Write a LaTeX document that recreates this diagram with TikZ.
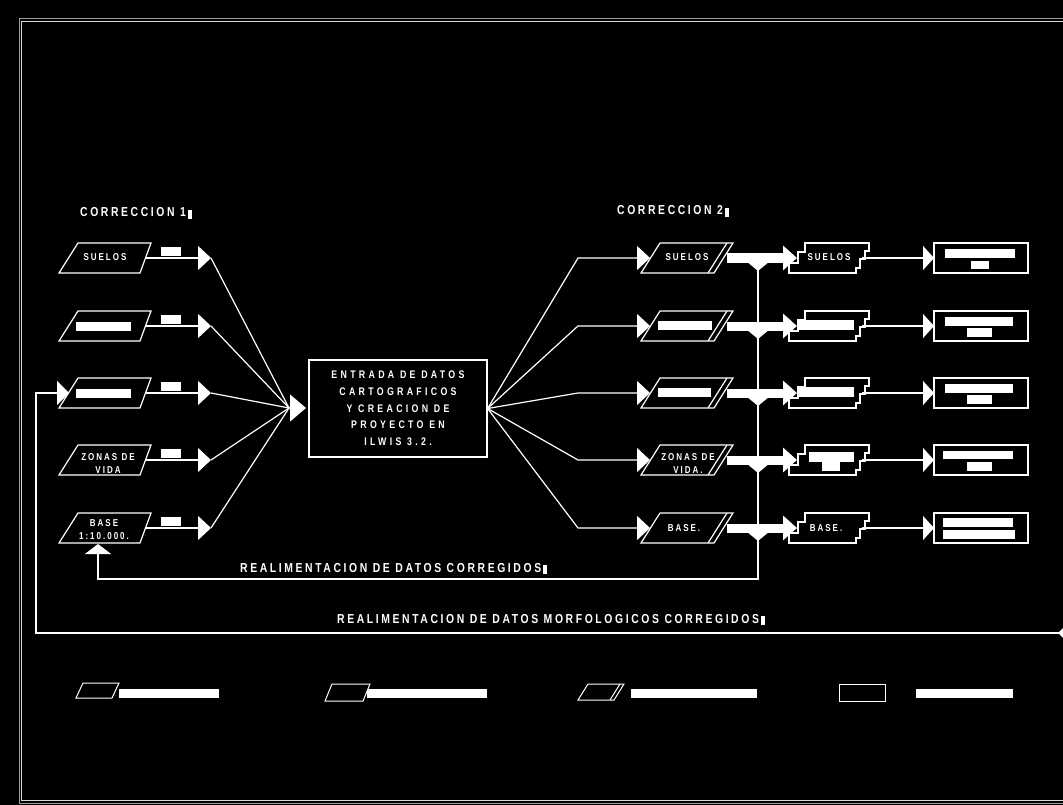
\documentclass[tikz,border=0pt]{standalone}
\usepackage{fontspec}
\usetikzlibrary{arrows.meta}
\newfontfamily\pixfont[FakeStretch=0.8,LetterSpace=20]{Liberation Sans}
\newfontfamily\pixboxfont[FakeStretch=0.8,LetterSpace=30]{Liberation Sans}
\newcommand{\blk}{\,\rule[-2pt]{3.5pt}{9pt}}
\begin{document}
\begin{tikzpicture}[x=1pt,y=-1pt,
  wl/.style={draw=white,line width=1.2pt},
  tipA/.style={-{Triangle[length=13pt,width=24pt]}},
  hid/.style={inner sep=0pt,outer sep=0pt,minimum height=30pt},
  lbl/.style={text=white,inner sep=0pt,font=\pixfont\bfseries\fontsize{13}{15}\selectfont,anchor=base west},
  sm/.style={text=white,inner sep=0pt,font=\pixfont\bfseries\fontsize{10}{13}\selectfont,align=center},
  wbar/.style={fill=white}]
\fill[black] (0,0) rectangle (1063,805);
\useasboundingbox (0,0) rectangle (1063,805);
% frame
\draw[gray!75,line width=1pt] (19,19) rectangle (1090,803);
\draw[white!85!black,line width=0.7pt] (21.5,21.5) rectangle (1090,800.5);

% labels
\node[lbl] (c1) at (80,217) {CORRECCION 1\blk};
\node[lbl] (c2) at (617,215) {CORRECCION 2\blk};
\node[lbl] (r1) at (240,572) {REALIMENTACION DE DATOS CORREGIDOS\blk};
\node[lbl] (r2) at (337,623) {REALIMENTACION DE DATOS MORFOLOGICOS CORREGIDOS\blk};

% central box
\node[draw=white,line width=1.2pt,minimum width=178pt,minimum height=97pt,inner sep=0pt,
      text=white,align=center,font=\pixboxfont\bfseries\fontsize{11}{16.7}\selectfont]
  (box) at (398,408.5) {ENTRADA DE DATOS\\CARTOGRAFICOS\\Y CREACION DE\\PROYECTO EN\\ILWIS 3.2.};
\coordinate (cin) at (289,408);
\coordinate (cinT) at (306,408);
\draw[wl,-{Triangle[length=16pt,width=27pt]}] (cin) -- (cinT);

\foreach \i/\y in {1/258,2/326,3/393,4/460,5/528}{
  % input parallelogram
  \node[hid,minimum width=81pt] (in\i) at (105,\y) {};
  \draw[wl] (59,\y+15) -- (140,\y+15) -- (151,\y-15) -- (78,\y-15) -- cycle;
  \fill[white] (161,\y-11) rectangle (181,\y-2);
  \coordinate (lt\i) at (211,\y);
  \draw[wl,tipA] (in\i.east) -- (lt\i);
  \draw[wl] (lt\i) -- (cin);
  % fan to the right
  \coordinate (rb\i) at (578,\y);
  \coordinate (rt\i) at (650,\y);
  \draw[wl,tipA] (box.east) -- (rb\i) -- (rt\i);
  \node[hid,minimum width=80pt] (mp\i) at (687,\y) {};
  \draw[wl] (641,\y+15) -- (714,\y+15) -- (733,\y-15) -- (660,\y-15) -- cycle;
  \draw[wl] (708,\y+15) -- (727,\y-15);
  \coordinate (ct\i) at (797,\y);
  \draw[white,line width=9pt,-{Triangle[length=14pt,width=24pt]}] (mp\i.east) -- (ct\i);
  \fill[white] (746,\y+3) -- (770,\y+3) -- (758,\y+13) -- cycle;
  % stepped shape
  \node[hid,minimum width=67pt] (st\i) at (828.5,\y) {};
  \draw[wl] (805,\y-15) -- (869,\y-15) -- (869,\y-7) -- (865,\y-7) -- (865,\y+1) -- (860,\y+1)
     -- (860,\y+10) -- (856,\y+10) -- (856,\y+15) -- (789,\y+15) -- (789,\y+5) -- (798,\y+5)
     -- (798,\y-6) -- (805,\y-6) -- cycle;
  % output rectangle
  \node[hid,draw=white,line width=1.2pt,minimum width=94pt] (out\i) at (981,\y) {};
  \draw[wl,-{Triangle[length=11pt,width=24pt]}] (st\i.east) -- (out\i.west);
}

% contents, left column
\node[sm] (t1) at (105,257) {SUELOS};
\fill[white] (76,322) rectangle (131,331);
\fill[white] (76,389) rectangle (131,398);
\node[sm] (t4) at (108,464) {ZONAS DE\\VIDA};
\node[sm] (t5) at (104,530) {BASE\\1:10.000.};

% contents, middle column
\node[sm] (m1) at (687,257) {SUELOS};
\fill[white] (658,321) rectangle (712,330);
\fill[white] (658,388) rectangle (711,397);
\node[sm] (m4) at (688,464) {ZONAS DE\\VIDA.};
\node[sm] (m5) at (684,528) {BASE.};

% contents, stepped column
\node[sm] (s1) at (829,257) {SUELOS};
\fill[white] (798,320) rectangle (854,330);
\fill[white] (798,387) rectangle (854,397);
\fill[white] (809,452) rectangle (854,462);
\fill[white] (822,462) rectangle (840,471);
\node[sm] (s5) at (826,528) {BASE.};

% contents, output rectangles
\fill[white] (945,249) rectangle (1015,258);
\fill[white] (971,261) rectangle (989,269);
\fill[white] (945,317) rectangle (1013,326);
\fill[white] (967,328) rectangle (992,337);
\fill[white] (945,384) rectangle (1013,393);
\fill[white] (967,395) rectangle (992,404);
\fill[white] (943,451) rectangle (1013,459);
\fill[white] (967,462) rectangle (992,471);
\fill[white] (943,518) rectangle (1013,527);
\fill[white] (943,530) rectangle (1015,539);

% feedback of corrected data
\coordinate (fbTop) at (758,258);
\coordinate (fbBot) at (758,579);
\coordinate (fbL) at (98,579);
\coordinate (fbT) at (98,544);
\draw[wl,-{Triangle[length=10pt,width=26pt]}] (fbTop) -- (fbBot) -- (fbL) -- (fbT);

% feedback of morphological data
\coordinate (rE) at (1063,633);
\coordinate (lp1) at (36,633);
\coordinate (lp2) at (36,393);
\coordinate (lpT) at (69,393);
\draw[wl,-{Triangle[length=12pt,width=24pt]}] (rE) -- (lp1) -- (lp2) -- (lpT);
\fill[white] (1058,633) -- (1066,625) -- (1074,633) -- (1066,641) -- cycle;

% legend
\draw[wl,line width=1pt] (76,698) -- (112,698) -- (119,683) -- (83,683) -- cycle;
\fill[white] (119,689) rectangle (219,698);
\draw[wl,line width=1pt] (325,701) -- (363,701) -- (370,684) -- (332,684) -- cycle;
\fill[white] (367,689) rectangle (487,698);
\draw[wl,line width=1pt] (578,700) -- (614,700) -- (624,684) -- (588,684) -- cycle;
\draw[wl,line width=1pt] (610,700) -- (620,684);
\fill[white] (631,689) rectangle (757,698);
\draw[wl,line width=1pt] (839,684) rectangle (885,701);
\fill[white] (916,689) rectangle (1013,698);
\end{tikzpicture}
\end{document}
